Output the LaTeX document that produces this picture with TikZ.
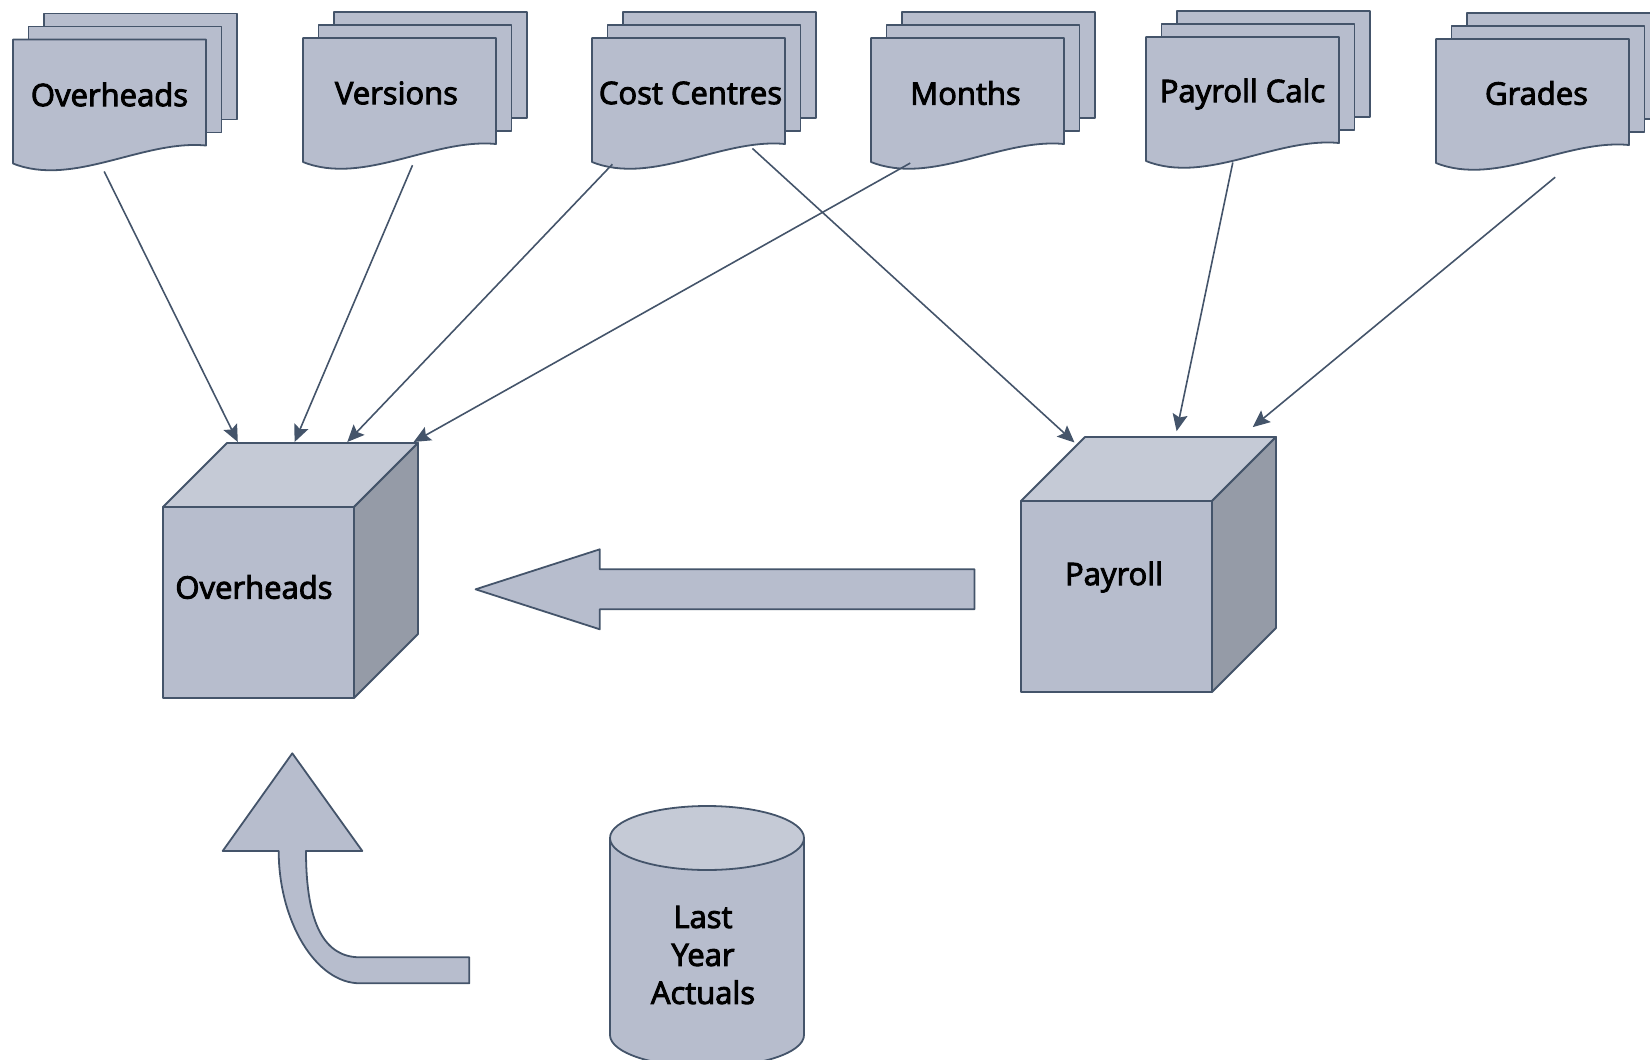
\documentclass[tikz,border=0pt]{standalone}
\usepackage{fontspec}
\setmainfont{Open Sans}
\newfontfamily\lblfont[FakeBold=3]{Open Sans}
\usetikzlibrary{arrows.meta}
\definecolor{fillmain}{HTML}{B7BDCD}
\definecolor{filltop}{HTML}{C5CAD6}
\definecolor{fillside}{HTML}{959BA7}
\definecolor{edgecol}{HTML}{44546A}
\tikzset{
  boxfill/.style={fill=fillmain, draw=edgecol, line width=1.8pt, line join=round},
  topfill/.style={fill=filltop, draw=edgecol, line width=1.8pt, line join=round},
  sidefill/.style={fill=fillside, draw=edgecol, line width=1.8pt, line join=round},
  lbl/.style={inner sep=0pt, font=\lblfont\fontsize{31}{38}\selectfont, align=center},
  conn/.style={draw=edgecol, line width=1.6pt, -{Stealth[length=17pt,width=15pt,inset=3pt]}}
}
% name, left, top, text, text dx, text dy
\newcommand\docstack[6]{%
  \filldraw[boxfill] ({#2+31},{#3-26}) rectangle ({#2+224},{#3+80});
  \filldraw[boxfill] ({#2+15.5},{#3-13}) rectangle ({#2+208.5},{#3+93});
  \filldraw[boxfill] (#2,#3) -- ({#2+193},#3) -- ({#2+193},{#3+106})
     .. controls ({#2+130},{#3+100}) and ({#2+60},{#3+148}) .. (#2,{#3+124}) -- cycle;
  \node[lbl] (#1) at ({#2+96.5+#5},{#3+55+#6}) {#4};
}
\newcommand\cubebox[2]{%
  \filldraw[boxfill] (#1,#2) rectangle ({#1+191},{#2+191});
  \filldraw[topfill] (#1,#2) -- ({#1+64},{#2-64}) -- ({#1+255},{#2-64}) -- ({#1+191},#2) -- cycle;
  \filldraw[sidefill] ({#1+191},#2) -- ({#1+255},{#2-64}) -- ({#1+255},{#2+127}) -- ({#1+191},{#2+191}) -- cycle;
}
\begin{document}
\begin{tikzpicture}[x=1pt,y=-1pt]
\useasboundingbox (0,0) rectangle (1650,1060);
\clip (0,0) rectangle (1650,1060);

% document stacks
\docstack{dOver}{13}{39.5}{Overheads}{0}{0}
\docstack{dVers}{303}{38}{Versions}{-3}{0}
\docstack{dCost}{592}{38}{Cost Centres}{2}{0}
\docstack{dMonth}{871}{38}{Months}{-2}{0}
\docstack{dPCalc}{1146}{37}{Payroll Calc}{0}{2}
\docstack{dGrade}{1436}{39}{Grades}{4}{-1}

% cubes
\cubebox{163}{507}
\node[lbl] (cOver) at (254,587) {Overheads};
\cubebox{1021}{501}
\node[lbl] (cPay) at (1114,577) {Payroll};

% big left arrow
\filldraw[boxfill] (475.6,589.3) -- (599.8,549.3) -- (599.8,569.3) -- (974.5,569.3)
  -- (974.5,609.3) -- (599.8,609.3) -- (599.8,629.3) -- cycle;

% curved up arrow
\filldraw[boxfill] (292.3,753.3) -- (362.3,851) -- (306,851)
  .. controls (306,925) and (325,957.3) .. (360,957.3) -- (469.3,957.3)
  -- (469.3,983.3) -- (360,983.3)
  .. controls (315,983.3) and (278.7,920) .. (278.7,851) -- (222.7,851) -- cycle;

% cylinder
\filldraw[boxfill] (610,838) -- (610,1035)
  .. controls (610,1052.7) and (653.4,1067) .. (707,1067)
  .. controls (760.6,1067) and (804,1052.7) .. (804,1035) -- (804,838) -- cycle;
\filldraw[topfill] (707,838) ellipse [x radius=97, y radius=32];
\node[lbl] (cyl) at (703,955) {Last\\Year\\Actuals};

% connector ends
\coordinate (o1) at (104.2,171.5);
\coordinate (o2) at (412.5,165.2);
\coordinate (o3) at (612.4,164.2);
\coordinate (o4) at (910.2,163.1);
\coordinate (o5) at (752.4,148.4);
\coordinate (o6) at (1232.8,162.5);
\coordinate (o7) at (1555.2,177.2);
\coordinate (i1) at (237.8,442);
\coordinate (i2) at (294.6,442);
\coordinate (i3) at (347.3,442);
\coordinate (i4) at (413.6,442);
\coordinate (i5) at (1074.5,442.5);
\coordinate (i6) at (1176.6,431.2);
\coordinate (i7) at (1252.8,427.1);

\draw[conn] (o1) -- (i1);
\draw[conn] (o2) -- (i2);
\draw[conn] (o3) -- (i3);
\draw[conn] (o4) -- (i4);
\draw[conn] (o5) -- (i5);
\draw[conn] (o6) -- (i6);
\draw[conn] (o7) -- (i7);
\end{tikzpicture}
\end{document}
